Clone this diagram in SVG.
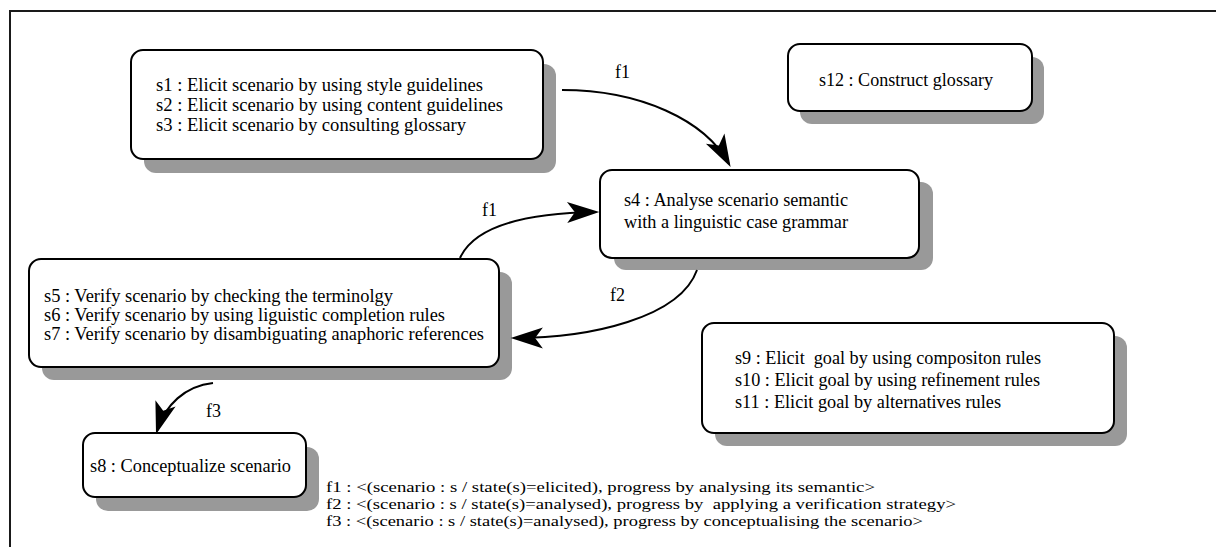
<svg xmlns="http://www.w3.org/2000/svg" width="1216" height="547" viewBox="0 0 1216 547">
  <style>
    .frame { fill: none; stroke: #1a1a1a; stroke-width: 2; }
    .shadow { fill: #999999; stroke: none; }
    .box { fill: #ffffff; stroke: #000000; stroke-width: 2; }
    .label { font-family: "Liberation Serif", "Times New Roman", serif; font-size: 18px; fill: #000000; }
    .legend { font-family: "Liberation Serif", "Times New Roman", serif; font-size: 15px; fill: #000000; }
    .flow { fill: none; stroke: #000000; stroke-width: 2; }
  </style>
  <defs>
    <marker id="head" markerUnits="userSpaceOnUse" markerWidth="40" markerHeight="30" viewBox="-30 -12 36 24" refX="0" refY="0" orient="auto">
      <path d="M3,0 L-26,-9.5 L-19,0 L-26,9.5 Z" fill="#000000"/>
    </marker>
  </defs>
  <rect width="1216" height="547" fill="#ffffff"/>
  <rect class="frame" x="10" y="11" width="1220" height="560"/>

  <g id="s1">
    <rect class="shadow" x="144" y="64" width="412" height="109" rx="12"/>
    <rect class="box" x="131" y="50" width="412" height="109" rx="12"/>
    <text class="label" x="156" y="91" textLength="327" lengthAdjust="spacingAndGlyphs">s1 : Elicit scenario by using style guidelines</text>
    <text class="label" x="156" y="111" textLength="347" lengthAdjust="spacingAndGlyphs">s2 : Elicit scenario by using content guidelines</text>
    <text class="label" x="156" y="131" textLength="310" lengthAdjust="spacingAndGlyphs">s3 : Elicit scenario by consulting glossary</text>
  </g>

  <g id="s12">
    <rect class="shadow" x="800" y="57" width="244" height="67" rx="12"/>
    <rect class="box" x="788" y="44" width="244" height="67" rx="12"/>
    <text class="label" x="819" y="86" textLength="174" lengthAdjust="spacingAndGlyphs">s12 : Construct glossary</text>
  </g>

  <g id="s4">
    <rect class="shadow" x="614" y="182" width="319" height="88" rx="12"/>
    <rect class="box" x="600" y="170" width="319" height="88" rx="12"/>
    <text class="label" x="624" y="206" textLength="224" lengthAdjust="spacingAndGlyphs">s4 : Analyse scenario semantic</text>
    <text class="label" x="624" y="228" textLength="224" lengthAdjust="spacingAndGlyphs">with a linguistic case grammar</text>
  </g>

  <g id="s5">
    <rect class="shadow" x="42" y="272" width="470" height="108" rx="12"/>
    <rect class="box" x="29" y="259" width="470" height="108" rx="12"/>
    <text class="label" x="44" y="302" textLength="349" lengthAdjust="spacingAndGlyphs">s5 : Verify scenario by checking the terminolgy</text>
    <text class="label" x="44" y="321" textLength="401" lengthAdjust="spacingAndGlyphs">s6 : Verify scenario by using liguistic completion rules</text>
    <text class="label" x="44" y="340" textLength="440" lengthAdjust="spacingAndGlyphs">s7 : Verify scenario by disambiguating anaphoric references</text>
  </g>

  <g id="s9">
    <rect class="shadow" x="715" y="336" width="412" height="110" rx="12"/>
    <rect class="box" x="702" y="323" width="412" height="110" rx="12"/>
    <text class="label" x="735" y="364" textLength="306" lengthAdjust="spacingAndGlyphs" xml:space="preserve">s9 : Elicit  goal by using compositon rules</text>
    <text class="label" x="735" y="386" textLength="305" lengthAdjust="spacingAndGlyphs">s10 : Elicit goal by using refinement rules</text>
    <text class="label" x="735" y="408" textLength="266" lengthAdjust="spacingAndGlyphs">s11 : Elicit goal by alternatives rules</text>
  </g>

  <g id="s8">
    <rect class="shadow" x="96" y="447" width="223" height="64" rx="12"/>
    <rect class="box" x="83" y="433" width="223" height="64" rx="12"/>
    <text class="label" x="90" y="472" textLength="201" lengthAdjust="spacingAndGlyphs">s8 : Conceptualize scenario</text>
  </g>

  <g id="connectors">
    <path class="flow" d="M562,90 C640,90 705,120 729,164" marker-end="url(#head)"/>
    <text class="label" x="615" y="78">f1</text>
    <path class="flow" d="M460,258 C475,225 530,213 596,212" marker-end="url(#head)"/>
    <text class="label" x="482" y="216">f1</text>
    <path class="flow" d="M697,270 C680,318 590,338 514,338" marker-end="url(#head)"/>
    <text class="label" x="610" y="301">f2</text>
    <path class="flow" d="M213,383 C185,386 165,405 157,431" marker-end="url(#head)"/>
    <text class="label" x="206" y="417">f3</text>
  </g>

  <g id="legend">
    <text class="legend" x="326" y="492" textLength="549" lengthAdjust="spacingAndGlyphs">f1 : &lt;(scenario : s / state(s)=elicited), progress by analysing its semantic&gt;</text>
    <text class="legend" x="326" y="509" textLength="630" lengthAdjust="spacingAndGlyphs" xml:space="preserve">f2 : &lt;(scenario : s / state(s)=analysed), progress by  applying a verification strategy&gt;</text>
    <text class="legend" x="326" y="526" textLength="597" lengthAdjust="spacingAndGlyphs">f3 : &lt;(scenario : s / state(s)=analysed), progress by conceptualising the scenario&gt;</text>
  </g>
</svg>
